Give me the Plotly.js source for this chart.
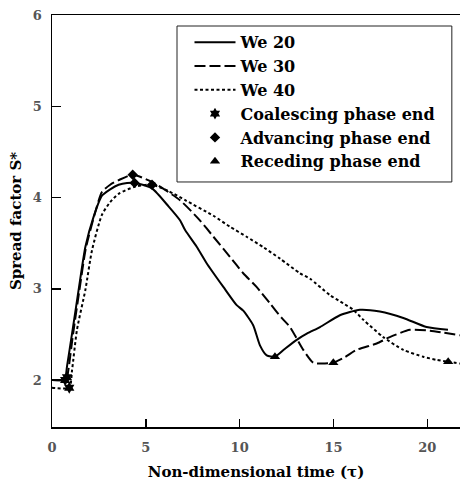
<!DOCTYPE html>
<html>
<head>
<meta charset="utf-8">
<script src="https://cdn.plot.ly/plotly-3.0.1.min.js"></script>
<style>html,body{margin:0;padding:0;background:#fff;}#chart{width:460px;height:482px;}</style>
</head>
<body>
<div id="chart"></div>
<script>
// We 20 (solid)
const we20X = [0, 0.6, 0.7, 0.8, 1.07, 1.42, 1.78, 2.22, 2.66, 3.1, 3.55, 4.0, 4.44, 5.33, 6.22, 6.82, 7.1, 7.71, 8.24, 9.13, 9.84, 10.19, 10.72, 11.08, 11.44, 11.88, 12.4, 13.04, 13.6, 14.28, 15.34, 16.41, 17.47, 18.72, 19.96, 21.1];
const we20Y = [2.0, 2.0, 2.01, 2.15, 2.51, 2.99, 3.46, 3.79, 4.02, 4.09, 4.14, 4.16, 4.16, 4.10, 3.90, 3.75, 3.64, 3.46, 3.28, 3.02, 2.82, 2.76, 2.60, 2.38, 2.27, 2.255, 2.34, 2.44, 2.51, 2.58, 2.71, 2.77, 2.75, 2.68, 2.58, 2.55];
// We 30 (dashed)
const we30X = [0, 0.7, 0.8, 0.9, 1.12, 1.45, 1.8, 2.25, 2.66, 3.1, 3.55, 4.3, 5.33, 6.82, 7.88, 8.6, 9.48, 10.19, 10.9, 11.61, 12.24, 12.68, 13.39, 13.92, 14.4, 14.99, 15.6, 16.23, 17.3, 18.0, 19.07, 20.14, 21.74];
const we30Y = [2.0, 2.0, 2.03, 2.15, 2.5, 2.97, 3.44, 3.8, 4.06, 4.14, 4.19, 4.25, 4.17, 3.97, 3.75, 3.57, 3.35, 3.17, 3.02, 2.84, 2.68, 2.58, 2.33, 2.19, 2.18, 2.19, 2.25, 2.33, 2.40, 2.47, 2.55, 2.54, 2.49];
// We 40 (dotted)
const we40X = [0, 0.92, 1.07, 1.33, 1.78, 2.13, 2.66, 3.1, 3.55, 4.44, 5.33, 6.22, 7.1, 8.6, 9.48, 10.37, 11.3, 12.15, 13.21, 13.75, 14.81, 15.52, 16.05, 16.59, 17.65, 18.72, 19.78, 20.5, 21.11, 21.74];
const we40Y = [1.915, 1.915, 2.11, 2.55, 2.99, 3.42, 3.81, 3.95, 4.04, 4.12, 4.14, 4.07, 3.97, 3.80, 3.68, 3.57, 3.45, 3.33, 3.17, 3.11, 2.93, 2.84, 2.77, 2.66, 2.47, 2.33, 2.255, 2.22, 2.20, 2.18];
// Phase-end markers (We 20, We 30, We 40)
const coalX = [0.7, 0.8, 0.92];
const coalY = [2.0, 2.03, 1.915];
const advX = [4.4, 4.3, 5.33];
const advY = [4.16, 4.25, 4.14];
const recX = [11.88, 14.99, 21.11];
const recY = [2.255, 2.19, 2.20];
const xTicks = [0, 5, 10, 15, 20];
const yTicks = [2, 3, 4, 5, 6];
const seriesNames = ['We 20', 'We 30', 'We 40', 'Coalescing phase end', 'Advancing phase end', 'Receding phase end'];

const FONT = 'DejaVu Serif, serif';
const lineStyle = (dash) => ({color: '#000', width: 2, dash: dash, shape: 'spline', smoothing: 0.6});
const b = (s) => '<b>' + s + '</b>';

const traces = [
  {x: we20X, y: we20Y, name: b(seriesNames[0]), mode: 'lines', line: lineStyle('solid')},
  {x: we30X, y: we30Y, name: b(seriesNames[1]), mode: 'lines', line: lineStyle('11px,4px')},
  {x: we40X, y: we40Y, name: b(seriesNames[2]), mode: 'lines', line: lineStyle('3px,2.5px')},
  {x: coalX, y: coalY, name: b(seriesNames[3]), mode: 'markers', marker: {symbol: 'hexagram', size: 9, color: '#000'}},
  {x: advX, y: advY, name: b(seriesNames[4]), mode: 'markers', marker: {symbol: 'diamond', size: 8, color: '#000'}},
  {x: recX, y: recY, name: b(seriesNames[5]), mode: 'markers', marker: {symbol: 'triangle-up', size: 9, color: '#000'}}
];

const layout = {
  width: 460, height: 482,
  margin: {l: 52, r: 0, t: 15, b: 55},
  paper_bgcolor: '#fff', plot_bgcolor: '#fff',
  showlegend: true,
  font: {family: FONT, color: '#000'},
  xaxis: {
    range: [0, 21.74], tickvals: xTicks, ticktext: xTicks.map(v => b(String(v))),
    ticks: 'inside', ticklen: 8, tickwidth: 1.5, tickcolor: '#000',
    showline: true, linecolor: '#000', linewidth: 1.5, mirror: true,
    showgrid: false, zeroline: false,
    tickfont: {family: FONT, size: 13, color: '#555'},
    ticklabelstandoff: 8,
    title: {text: b('Non-dimensional time (τ)'), font: {family: FONT, size: 15, color: '#000'}, standoff: 12}
  },
  yaxis: {
    range: [1.485, 6.0], tickvals: yTicks, ticktext: yTicks.map(v => b(String(v))),
    ticks: 'inside', ticklen: 9, tickwidth: 1.5, tickcolor: '#000',
    showline: true, linecolor: '#000', linewidth: 1.5,
    showgrid: false, zeroline: false,
    tickfont: {family: FONT, size: 13, color: '#555'},
    ticklabelstandoff: 6,
    title: {text: b('Spread factor S*'), font: {family: FONT, size: 15, color: '#000'}, standoff: 7}
  },
  legend: {
    x: 0.337, y: 0.975, xanchor: 'left', yanchor: 'top',
    bgcolor: 'rgba(0,0,0,0)', borderwidth: 0,
    font: {family: FONT, size: 16, color: '#000'},
    itemwidth: 41, tracegroupgap: 0
  },
  shapes: [{
    type: 'rect', xref: 'paper', yref: 'paper', layer: 'above',
    x0: 0.3064, x1: 0.980, y0: 0.5947, y1: 0.9733,
    line: {color: '#222', width: 1}, fillcolor: 'rgba(0,0,0,0)'
  }]
};

Plotly.newPlot('chart', traces, layout, {displayModeBar: false, staticPlot: true});
</script>
</body>
</html>
